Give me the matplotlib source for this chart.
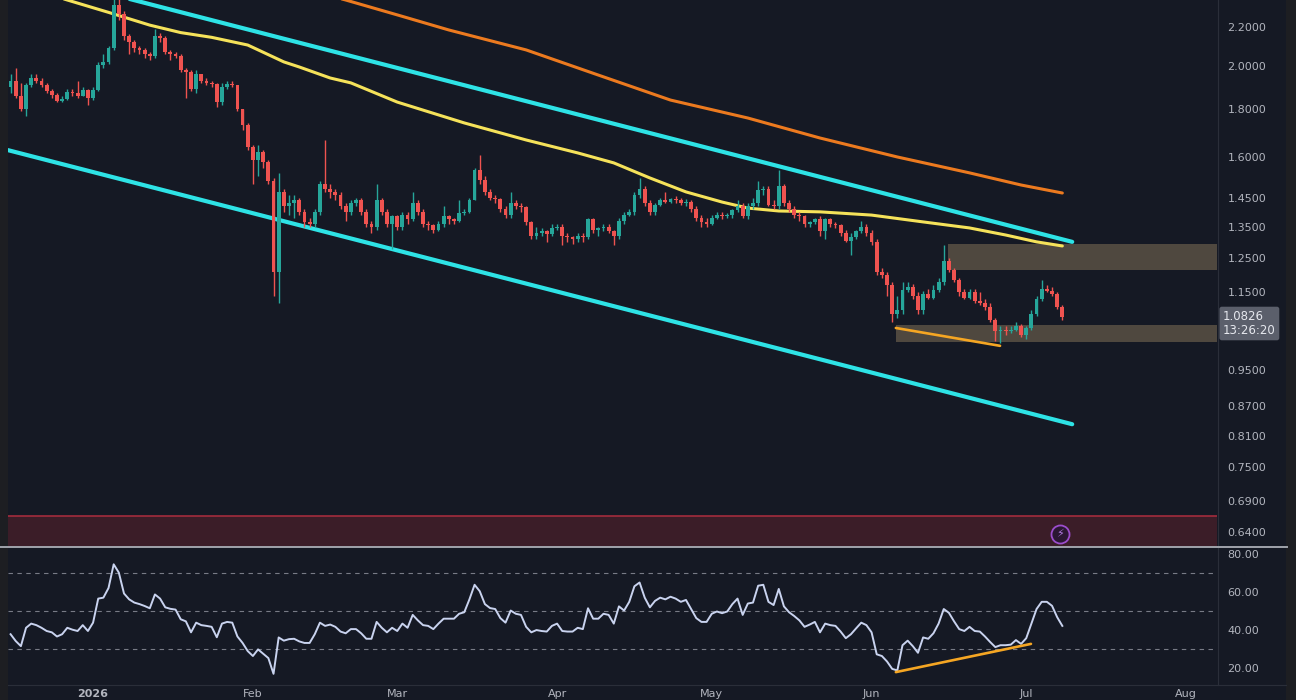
# %%
import matplotlib
matplotlib.use("Agg")
import matplotlib.pyplot as plt
import matplotlib.dates as mdates
from matplotlib.lines import Line2D
from matplotlib.patches import Rectangle
from matplotlib.ticker import NullLocator
import numpy as np
import pandas as pd

# %%
# Daily candles (first candle 2025-12-16)
start = "2025-12-16"
first_open = 1.90
closes = [
    1.93, 1.86, 1.80, 1.91, 1.94, 1.93, 1.91, 1.88, 1.865, 1.835,
    1.845, 1.875, 1.87, 1.86, 1.885, 1.85, 1.885, 2.005, 2.02, 2.09,
    2.32, 2.27, 2.15, 2.12, 2.09, 2.08, 2.06, 2.05, 2.15, 2.14,
    2.07, 2.06, 2.05, 1.98, 1.97, 1.89, 1.96, 1.93, 1.92, 1.915,
    1.83, 1.90, 1.915, 1.91, 1.80, 1.73, 1.64, 1.59, 1.62, 1.58,
    1.51, 1.21, 1.47, 1.42, 1.43, 1.44, 1.40, 1.365, 1.36, 1.40,
    1.50, 1.48, 1.47, 1.46, 1.42, 1.40, 1.43, 1.44, 1.40, 1.36,
    1.35, 1.44, 1.40, 1.36, 1.385, 1.35, 1.39, 1.375, 1.43, 1.40,
    1.36, 1.355, 1.34, 1.36, 1.385, 1.375, 1.37, 1.395, 1.40, 1.44,
    1.55, 1.515, 1.47, 1.45, 1.445, 1.41, 1.39, 1.43, 1.42, 1.415,
    1.365, 1.32, 1.33, 1.335, 1.325, 1.345, 1.35, 1.32, 1.315, 1.31,
    1.32, 1.315, 1.375, 1.34, 1.345, 1.35, 1.335, 1.32, 1.37, 1.39,
    1.40, 1.46, 1.48, 1.43, 1.40, 1.425, 1.44, 1.435, 1.445, 1.44,
    1.43, 1.435, 1.41, 1.38, 1.365, 1.36, 1.38, 1.39, 1.385, 1.39,
    1.405, 1.42, 1.385, 1.42, 1.43, 1.476, 1.48, 1.425, 1.42, 1.49,
    1.43, 1.41, 1.39, 1.385, 1.36, 1.365, 1.375, 1.335, 1.375, 1.36,
    1.355, 1.33, 1.305, 1.315, 1.335, 1.35, 1.33, 1.30, 1.21, 1.20,
    1.17, 1.09, 1.10, 1.156, 1.165, 1.14, 1.10, 1.145, 1.135, 1.156,
    1.18, 1.24, 1.215, 1.185, 1.15, 1.135, 1.15, 1.125, 1.12, 1.11,
    1.075, 1.045, 1.05, 1.045, 1.05, 1.06, 1.035, 1.055, 1.09, 1.13,
    1.16, 1.155, 1.145, 1.11, 1.0826,
]
highs = [
    1.96, 1.99, 1.92, 1.92, 1.96, 1.96, 1.94, 1.92, 1.89, 1.87,
    1.86, 1.89, 1.89, 1.93, 1.90, 1.89, 1.90, 2.02, 2.06, 2.10,
    2.40, 2.38, 2.29, 2.16, 2.13, 2.10, 2.09, 2.07, 2.19, 2.17,
    2.15, 2.08, 2.07, 2.06, 1.99, 1.98, 1.98, 1.96, 1.94, 1.93,
    1.92, 1.92, 1.93, 1.93, 1.91, 1.80, 1.74, 1.65, 1.65, 1.63,
    1.59, 1.52, 1.54, 1.48, 1.46, 1.46, 1.45, 1.41, 1.38, 1.41,
    1.51, 1.67, 1.50, 1.48, 1.47, 1.43, 1.44, 1.45, 1.45, 1.41,
    1.37, 1.50, 1.45, 1.41, 1.39, 1.39, 1.40, 1.40, 1.47, 1.44,
    1.41, 1.37, 1.36, 1.37, 1.42, 1.39, 1.38, 1.44, 1.41, 1.45,
    1.56, 1.61, 1.53, 1.48, 1.46, 1.45, 1.42, 1.47, 1.44, 1.43,
    1.42, 1.37, 1.35, 1.345, 1.34, 1.36, 1.36, 1.36, 1.33, 1.32,
    1.33, 1.33, 1.38, 1.38, 1.35, 1.36, 1.36, 1.34, 1.38, 1.40,
    1.41, 1.47, 1.52, 1.49, 1.44, 1.43, 1.45, 1.47, 1.45, 1.455,
    1.45, 1.445, 1.44, 1.42, 1.39, 1.38, 1.39, 1.40, 1.40, 1.395,
    1.41, 1.44, 1.43, 1.43, 1.45, 1.51, 1.49, 1.49, 1.44, 1.55,
    1.50, 1.44, 1.42, 1.40, 1.39, 1.37, 1.38, 1.385, 1.38, 1.38,
    1.365, 1.36, 1.34, 1.33, 1.34, 1.37, 1.36, 1.34, 1.31, 1.22,
    1.21, 1.18, 1.14, 1.18, 1.18, 1.175, 1.15, 1.155, 1.16, 1.17,
    1.19, 1.29, 1.25, 1.22, 1.19, 1.16, 1.16, 1.16, 1.15, 1.13,
    1.12, 1.08, 1.06, 1.06, 1.06, 1.07, 1.065, 1.06, 1.10, 1.14,
    1.185, 1.17, 1.165, 1.15, 1.115,
]
lows = [
    1.87, 1.85, 1.79, 1.77, 1.90, 1.92, 1.90, 1.87, 1.85, 1.83,
    1.83, 1.84, 1.86, 1.85, 1.86, 1.82, 1.84, 1.88, 1.99, 2.01,
    2.08, 2.24, 2.13, 2.06, 2.07, 2.06, 2.04, 2.03, 2.04, 2.12,
    2.06, 2.03, 2.04, 1.97, 1.85, 1.88, 1.87, 1.92, 1.91, 1.90,
    1.81, 1.82, 1.89, 1.90, 1.79, 1.71, 1.63, 1.50, 1.53, 1.56,
    1.50, 1.14, 1.12, 1.40, 1.39, 1.38, 1.39, 1.35, 1.35, 1.35,
    1.39, 1.47, 1.45, 1.44, 1.41, 1.37, 1.39, 1.42, 1.39, 1.35,
    1.33, 1.34, 1.39, 1.35, 1.28, 1.34, 1.34, 1.36, 1.37, 1.39,
    1.35, 1.34, 1.33, 1.335, 1.35, 1.36, 1.36, 1.365, 1.39, 1.395,
    1.44, 1.50, 1.46, 1.44, 1.43, 1.40, 1.38, 1.38, 1.41, 1.40,
    1.355, 1.31, 1.31, 1.32, 1.30, 1.32, 1.34, 1.29, 1.30, 1.295,
    1.30, 1.30, 1.31, 1.33, 1.32, 1.335, 1.33, 1.29, 1.31, 1.36,
    1.385, 1.39, 1.45, 1.42, 1.39, 1.39, 1.42, 1.43, 1.43, 1.43,
    1.425, 1.42, 1.40, 1.37, 1.35, 1.35, 1.355, 1.375, 1.375, 1.38,
    1.38, 1.40, 1.38, 1.375, 1.41, 1.42, 1.46, 1.42, 1.41, 1.41,
    1.42, 1.40, 1.38, 1.37, 1.35, 1.35, 1.36, 1.32, 1.31, 1.35,
    1.345, 1.32, 1.30, 1.26, 1.31, 1.33, 1.32, 1.29, 1.20, 1.19,
    1.14, 1.07, 1.08, 1.09, 1.15, 1.13, 1.09, 1.09, 1.13, 1.13,
    1.15, 1.17, 1.21, 1.18, 1.14, 1.13, 1.13, 1.12, 1.115, 1.10,
    1.07, 1.02, 1.015, 1.035, 1.04, 1.045, 1.03, 1.025, 1.05, 1.085,
    1.125, 1.15, 1.14, 1.105, 1.075,
]

# RSI(14), one value per candle
rsi = [
    37.6, 34.0, 31.3, 41.0, 43.2, 42.4, 41.0, 39.3, 38.6, 36.4,
    37.6, 41.0, 40.0, 39.3, 42.4, 39.3, 43.7, 56.4, 56.9, 62.0,
    74.5, 70.1, 59.1, 56.0, 54.3, 53.5, 52.5, 51.3, 58.6, 56.4,
    51.8, 51.0, 50.6, 45.5, 44.4, 38.6, 43.7, 42.4, 42.0, 41.5,
    36.0, 43.2, 44.1, 43.7, 36.4, 33.0, 28.7, 26.1, 29.6, 27.3,
    25.0, 16.7, 35.9, 34.2, 35.0, 35.2, 33.8, 33.0, 33.0, 37.6,
    43.7, 42.0, 42.7, 41.5, 39.0, 38.1, 40.3, 40.3, 38.1, 35.2,
    35.2, 44.1, 41.0, 38.6, 41.0, 39.3, 43.2, 41.0, 47.8, 44.9,
    42.4, 42.0, 40.3, 43.2, 45.8, 45.8, 45.8, 48.4, 49.2, 56.0,
    63.7, 60.3, 53.5, 51.4, 50.9, 46.1, 43.7, 50.1, 48.4, 47.8,
    41.5, 38.6, 39.8, 39.3, 39.0, 42.0, 43.2, 39.3, 39.0, 39.0,
    41.0, 40.3, 51.3, 45.8, 45.8, 48.4, 47.8, 43.2, 52.3, 50.1,
    54.7, 62.9, 64.9, 56.9, 51.8, 55.2, 56.9, 56.0, 57.4, 56.4,
    54.7, 55.7, 50.9, 46.1, 44.1, 44.1, 48.4, 49.6, 48.7, 49.6,
    53.5, 56.4, 47.8, 53.8, 54.3, 63.2, 63.7, 54.7, 53.0, 61.5,
    52.3, 49.2, 47.2, 44.9, 41.5, 42.7, 44.1, 38.6, 43.2, 42.4,
    42.0, 39.0, 35.5, 37.6, 40.7, 43.7, 42.4, 38.6, 27.0, 26.1,
    23.2, 19.3, 18.5, 31.8, 34.2, 31.3, 27.8, 35.9, 35.2, 38.1,
    43.2, 50.9, 48.9, 44.4, 40.3, 39.3, 41.5, 39.3, 39.0, 36.4,
    33.5, 30.8, 31.8, 31.8, 32.1, 34.5, 32.5, 35.5, 43.2, 50.9,
    54.7, 54.7, 52.6, 46.6, 42.0,
]

# yellow (100) and orange (200) moving averages, read at sample dates
ma100_dates = ["2025-12-16", "2025-12-27", "2026-01-04", "2026-01-12", "2026-01-18",
               "2026-01-24", "2026-01-31", "2026-02-07", "2026-02-10", "2026-02-16",
               "2026-02-20", "2026-03-01", "2026-03-14", "2026-03-26", "2026-04-05",
               "2026-04-12", "2026-04-19", "2026-04-26", "2026-05-03", "2026-05-08",
               "2026-05-14", "2026-05-22", "2026-06-01", "2026-06-11", "2026-06-20",
               "2026-06-27", "2026-07-03", "2026-07-08"]
ma100_vals = [2.45, 2.35, 2.28, 2.21, 2.17, 2.145, 2.105, 2.02, 1.995, 1.942,
              1.919, 1.831, 1.740, 1.669, 1.617, 1.578, 1.521, 1.470, 1.434, 1.413,
              1.403, 1.400, 1.389, 1.366, 1.346, 1.323, 1.301, 1.288]
ma200_dates = ["2026-02-10", "2026-02-19", "2026-03-01", "2026-03-11", "2026-03-26",
               "2026-04-09", "2026-04-23", "2026-05-08", "2026-05-22", "2026-06-06",
               "2026-06-20", "2026-06-30", "2026-07-08"]
ma200_vals = [2.42, 2.35, 2.266, 2.184, 2.080, 1.956, 1.840, 1.761, 1.677, 1.601,
              1.540, 1.495, 1.466]

# drawn lines and zones
channel_top_dates = ["2026-01-02 09:00", "2026-07-09 22:00"]
channel_top_vals = [2.40, 1.301]
channel_bot_dates = ["2025-12-15 12:00", "2026-07-09 22:00"]
channel_bot_vals = [1.628, 0.833]
support_line_dates = ["2026-06-05 17:00", "2026-06-25 22:00"]
support_line_vals = [1.054, 1.009]
rsi_line_dates = ["2026-06-05 17:00", "2026-07-01 22:00"]
rsi_line_vals = [17.6, 32.5]
resistance_start, resistance_lo, resistance_hi = "2026-06-15 19:00", 1.215, 1.294
support_start, support_lo, support_hi = "2026-06-05 17:00", 1.018, 1.062
red_zone_lo, red_zone_hi = 0.617, 0.6656

price_ticks = [2.2, 2.0, 1.8, 1.6, 1.45, 1.35, 1.25, 1.15, 0.95, 0.87, 0.81, 0.75, 0.69, 0.64]
rsi_ticks = [20, 40, 60, 80]
rsi_levels = [30, 50, 70]
month_ticks = ["2026-01-01", "2026-02-01", "2026-03-01", "2026-04-01",
               "2026-05-01", "2026-06-01", "2026-07-01", "2026-08-01"]
month_labels = ["2026", "Feb", "Mar", "Apr", "May", "Jun", "Jul", "Aug"]
last_price = "1.0826"
countdown = "13:26:20"

# %%
BG = "#151924"
UP, DOWN = "#26a69a", "#ef5350"
TXT = "#b2b5be"
W, H = 1296, 700

def d2n(v):
    return mdates.date2num(pd.to_datetime(v))

dates = pd.date_range(start, periods=len(closes), freq="D")
x = mdates.date2num(dates)
closes = np.array(closes)
opens = np.r_[first_open, closes[:-1]]
col = np.where(closes >= opens, UP, DOWN)
xlim = (d2n("2025-12-15 12:00"), d2n("2026-08-07 00:00"))

fig = plt.figure(figsize=(W / 100, H / 100), dpi=100, facecolor=BG)
ax = fig.add_axes([8 / W, 153 / H, 1209 / W, 547 / H], facecolor=BG)
rax = fig.add_axes([8 / W, 15 / H, 1209 / W, 133 / H], facecolor=BG)

# %%
# price panel
ax.set_yscale("log")
ax.axhspan(red_zone_lo, red_zone_hi, color="#3b1d28", lw=0, zorder=0.5)
ax.axhline(red_zone_hi, color="#a32c3d", lw=1.2, zorder=0.6)

ax.fill_between([d2n(resistance_start), xlim[1]], resistance_lo, resistance_hi,
                color="#c8a878", alpha=0.33, lw=0, zorder=1)
ax.fill_between([d2n(support_start), xlim[1]], support_lo, support_hi,
                color="#c8a878", alpha=0.33, lw=0, zorder=1)

ax.plot(d2n(ma200_dates), ma200_vals, color="#ec7a1f", lw=2.2, zorder=2,
        solid_joinstyle="round", solid_capstyle="round")
ax.plot(d2n(ma100_dates), ma100_vals, color="#f5e25a", lw=2.2, zorder=2,
        solid_joinstyle="round", solid_capstyle="round")
ax.plot(d2n(channel_top_dates), channel_top_vals, color="#2ee3e6", lw=3.0,
        solid_capstyle="round", zorder=2)
ax.plot(d2n(channel_bot_dates), channel_bot_vals, color="#2ee3e6", lw=3.0,
        solid_capstyle="round", zorder=2)

ax.vlines(x, lows, highs, colors=col, lw=1.0, zorder=3)
ax.bar(x, np.abs(closes - opens), bottom=np.minimum(opens, closes), width=0.74,
       color=col, lw=0, zorder=4)

ax.plot(d2n(support_line_dates), support_line_vals, color="#f5a623", lw=1.9,
        solid_capstyle="round", zorder=5)

# lightning badge
bx, by = d2n("2026-07-07 12:00"), 0.637
ax.plot([bx], [by], "o", ms=13, mfc="#2b1733", mec="#9c4dcc", mew=1.3, zorder=6)
ax.text(bx, by, "\u26a1", color="#b07ae0", fontsize=8, ha="center", va="center",
        family=["DejaVu Sans"], zorder=7)

ax.set_xlim(xlim)
ax.set_ylim(0.617, 2.350)
ax.yaxis.tick_right()
ax.yaxis.set_minor_locator(NullLocator())
ax.set_yticks(price_ticks)
ax.set_yticklabels([f"{v:.4f}" for v in price_ticks])
ax.tick_params(axis="y", length=0, pad=7.5, labelsize=8, labelcolor=TXT)
ax.set_xticks([])
for s in ax.spines.values():
    s.set_visible(False)

# %%
# RSI panel
for lv in rsi_levels:
    rax.axhline(lv, color="#787b86", lw=0.8, dashes=(4, 4))
rax.plot(x, rsi, color="#c9d3ef", lw=1.4)
rax.plot(d2n(rsi_line_dates), rsi_line_vals, color="#f5a623", lw=1.9,
         solid_capstyle="round")
rax.set_xlim(xlim)
rax.set_ylim(10.8, 81.0)
rax.yaxis.tick_right()
rax.set_yticks(rsi_ticks)
rax.set_yticklabels([f"{v:.2f}" for v in rsi_ticks])
rax.tick_params(axis="y", length=0, pad=7.5, labelsize=8, labelcolor=TXT)
rax.set_xticks(d2n(month_ticks))
rax.set_xticklabels(month_labels)
rax.tick_params(axis="x", length=0, pad=3, labelsize=8, labelcolor=TXT)
rax.get_xticklabels()[0].set_fontweight("bold")
for s in rax.spines.values():
    s.set_visible(False)

# %%
# frame lines, side strips and last price tag
fig.add_artist(Line2D([1217.5 / W] * 2, [15 / H, 1], color="#2a2e39", lw=0.8))
fig.add_artist(Line2D([8 / W, 1286 / W], [15 / H] * 2, color="#2a2e39", lw=0.8))
fig.add_artist(Line2D([0, 1287 / W], [153 / H] * 2, color="#a0a3ab", lw=1.4))
fig.add_artist(Rectangle((0, 0), 8 / W, 1, transform=fig.transFigure,
                         color="#1d1e22", lw=0))
fig.add_artist(Rectangle((1286 / W, 0), 10 / W, 1, transform=fig.transFigure,
                         color="#1d1e22", lw=0))
fig.text(1223 / W, 1 - 323.5 / H, f"{last_price}\n{countdown}", color="#e6e8ee",
         fontsize=8.5, ha="left", va="center", linespacing=1.05,
         bbox=dict(boxstyle="round,pad=0.3,rounding_size=0.2", fc="#5b5f6b", ec="none"))

fig.savefig("out.png", dpi=100, facecolor=BG)
